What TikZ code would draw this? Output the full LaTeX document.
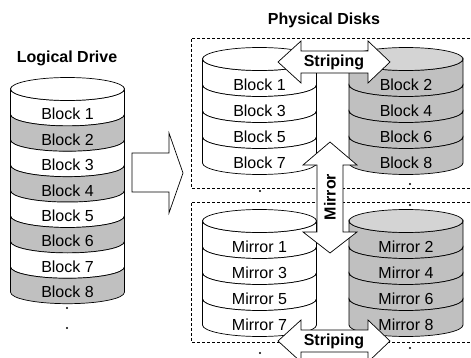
\documentclass[tikz,border=0pt]{standalone}
\usepackage{fontspec}
\setmainfont{Liberation Sans}
\usepackage{tikz}
\usetikzlibrary{positioning}

\definecolor{diskgray}{HTML}{C0C0C0}
\definecolor{disklight}{HTML}{D4D4D4}

\newcommand{\diskrx}{57}
\newcommand{\diskry}{11.5}

% #1 name, #2 left x, #3 top y, #4 band height, #5 top fill, #6 fill/label list
\newcommand{\diskstack}[6]{%
  \foreach [count=\i from 1] \fc/\lbl in {#6} {
    \filldraw[fill=\fc] (#2,#3-\i*#4+#4) -- ++(0,-#4)
      arc[start angle=180, end angle=360, x radius=\diskrx, y radius=\diskry]
      -- ++(0,#4)
      arc[start angle=0, end angle=-180, x radius=\diskrx, y radius=\diskry] -- cycle;
    \node (#1\i) [blocktext] at (#2+\diskrx,#3-\i*#4+#4/2-\diskry-1) {\lbl};
  }
  \filldraw[fill=#5] (#2+\diskrx,#3) ellipse[x radius=\diskrx, y radius=\diskry];
}

\begin{document}
\begin{tikzpicture}[x=1pt, y=1pt, line width=0.7pt,
    blocktext/.style={inner sep=0pt, font=\fontsize{16}{19}\selectfont},
    titletext/.style={inner sep=0pt, font=\fontsize{16}{19}\selectfont\bfseries},
    diskbox/.style={draw, dash pattern=on 3pt off 2pt, line width=0.6pt},
    blockarrow/.style={draw, fill=white, line join=miter}]

    \useasboundingbox (0,0) rectangle (471,-358);

    % Titles
    \node (logicalTitle) [titletext] at (67,-58) {Logical Drive};
    \node (physicalTitle) [titletext] at (324,-20) {Physical Disks};

    % Dashed boxes round the physical disks
    \draw[diskbox] (480,-38) -- (191,-38) -- (191,-188) -- (480,-188);
    \draw[diskbox] (480,-202) -- (191,-202) -- (191,-342) -- (480,-342);

    % Logical drive
    \diskstack{logical}{10.5}{-89}{25.4}{white}{white/Block 1, diskgray/Block 2,
      white/Block 3, diskgray/Block 4, white/Block 5, diskgray/Block 6,
      white/Block 7, diskgray/Block 8}

    % Physical disks
    \diskstack{diskA}{202.5}{-59}{26}{white}{white/Block 1, white/Block 3,
      white/Block 5, white/Block 7}
    \diskstack{diskB}{349}{-59}{26}{disklight}{diskgray/Block 2, diskgray/Block 4,
      diskgray/Block 6, diskgray/Block 8}
    \diskstack{mirrorA}{202.5}{-221}{26}{white}{white/Mirror 1, white/Mirror 3,
      white/Mirror 5, white/Mirror 7}
    \diskstack{mirrorB}{349}{-221}{26}{disklight}{diskgray/Mirror 2, diskgray/Mirror 4,
      diskgray/Mirror 6, diskgray/Mirror 8}

    % Dots
    \foreach \p in {(67,-308), (67,-328), (260,-191), (410,-184), (410,-205),
      (260,-353), (410,-348)}
      \fill \p circle[radius=1.2];

    % Arrow from logical drive to physical disks
    \draw[blockarrow] (132,-153) -- (169,-153) -- (169,-133) -- (183,-173)
      -- (169,-213) -- (169,-192) -- (132,-192) -- cycle;

    % Mirror arrow
    \draw[blockarrow] (330,-142) -- (357,-165) -- (343,-165) -- (343,-232)
      -- (357,-232) -- (330,-253) -- (303,-232) -- (317,-232) -- (317,-165)
      -- (303,-165) -- cycle;
    \node (mirrorLabel) [titletext, rotate=90] at (330,-197) {Mirror};

    % Striping arrows
    \foreach \yc/\nm in {-62/stripingTop, -341/stripingBottom} {
      \draw[blockarrow] (278,\yc) -- (301,\yc+21) -- (301,\yc+11) -- (368,\yc+11)
        -- (368,\yc+21) -- (390,\yc) -- (368,\yc-21) -- (368,\yc-11)
        -- (301,\yc-11) -- (301,\yc-21) -- cycle;
      \node (\nm) [titletext] at (334,\yc) {Striping};
    }

\end{tikzpicture}
\end{document}
